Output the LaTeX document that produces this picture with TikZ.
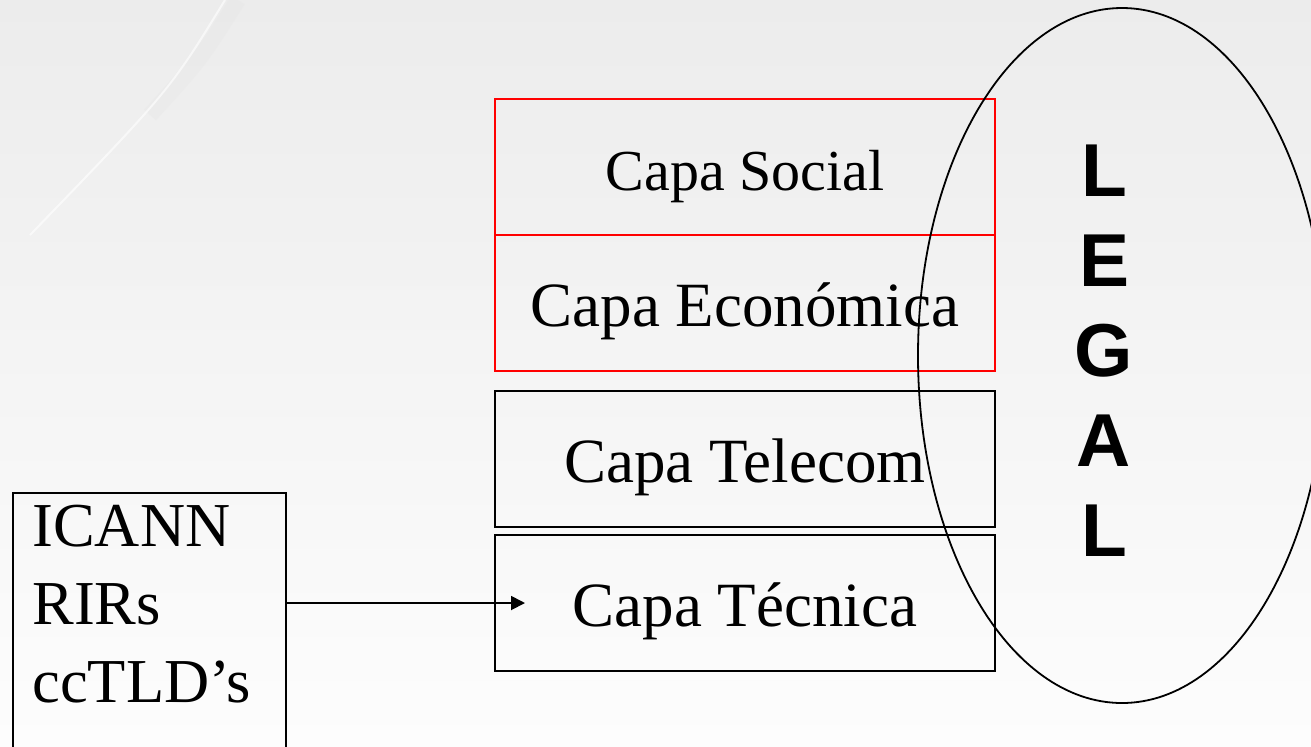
\documentclass[tikz,border=0pt]{standalone}
\usepackage{fontspec}
\setmainfont{Liberation Serif}
\newfontfamily\legalfont{Liberation Sans}
\usetikzlibrary{positioning, shapes.geometric, arrows.meta}
\definecolor{bgtop}{RGB}{236,236,236}
\definecolor{bgbottom}{RGB}{253,253,253}

\begin{document}
\begin{tikzpicture}[
            x = 0.5pt, y = -0.5pt,
            > = {Triangle[length=7pt,width=7pt]},
  layer/.style = {draw, line width=0.9pt, outer sep=0pt, minimum width=250pt,
                  minimum height=68pt, inner sep=0pt, text height=23pt, text depth=0pt,
                  font=\fontsize{31.5}{36}\selectfont},
redlayer/.style = {layer, draw=red},
 ring/.style = {draw, ellipse, line width=0.9pt, inner sep=0pt}
                        ]
% background
\clip (0,0) rectangle (1311,746);
\fill[top color=bgtop, bottom color=bgbottom] (0,0) rectangle (1311,746);
\draw[black!10, line width=8pt, opacity=0.3] (238,0) .. controls (200,60) .. (150,115);
\draw[white, line width=1pt, opacity=0.6] (225,0) .. controls (170,90) .. (30,235);
% layers
\node[redlayer, font=\fontsize{29}{34}\selectfont] (social) at (745,167) {Capa Social};
\node[redlayer, below=0pt of social] (econ) {Capa Económica};
\node[layer, below=10pt of econ] (telecom) {Capa Telecom};
\node[layer, below=4pt of telecom] (tecnica) {Capa Técnica};
% organisations
\node[draw, line width=0.9pt, minimum width=136.5pt, minimum height=150pt,
      anchor=north west] (orgs) at (12,492) {};
\node[anchor=north west, align=left, inner sep=0pt,
      font=\fontsize{31.25}{39}\selectfont] (orgnames) at (32,505) {ICANN\\RIRs\\ccTLD’s};
\draw[->, line width=0.9pt] (orgs.east |- tecnica.west) -- ([xshift=15pt]tecnica.west);
% legal
\node[ring, minimum width=204pt, minimum height=347.5pt] (legalring) at (1122,355.5) {};
\node[align=center, inner sep=0pt,
      font=\legalfont\bfseries\fontsize{37.5}{45}\selectfont] (legal) at (1104,350.5) {L\\E\\G\\A\\L};
\end{tikzpicture}
\end{document}
